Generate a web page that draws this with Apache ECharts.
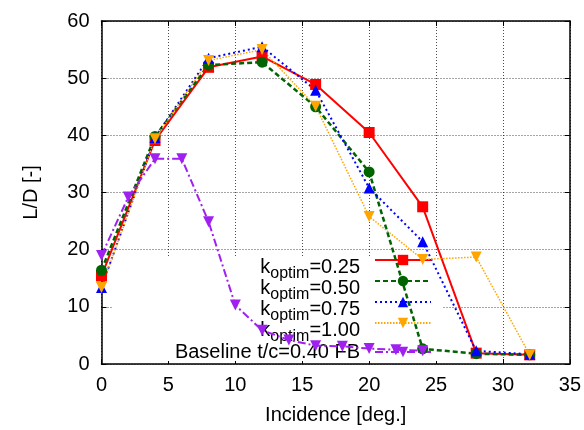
<!DOCTYPE html>
<html>
<head>
<meta charset="utf-8">
<script src="https://cdn.jsdelivr.net/npm/echarts@6/dist/echarts.min.js"></script>
<style>html,body{margin:0;padding:0;background:#fff;}#c{width:584px;height:430px;}</style>
</head>
<body>
<div id="c"></div>
<script>
// ---- data ----
var incidence = [0, 4, 8, 12, 16, 20, 24, 28, 32];
var k025 = [15.4, 39.1, 51.9, 53.8, 48.9, 40.5, 27.5, 1.9, 1.6];
var k050 = [16.4, 39.8, 52.3, 52.8, 45.0, 33.6, 2.65, 1.8, 1.6];
var k075 = [13.4, 39.6, 53.5, 55.5, 47.9, 30.8, 21.4, 2.3, 1.7];
var k100 = [13.4, 39.4, 53.1, 55.0, 45.1, 25.8, 18.3, 18.7, 1.6];
var baseIncidence = [0, 2, 4, 6, 8, 10, 12, 14, 16, 18, 20, 22, 24];
var baseline = [19.0, 29.2, 35.9, 35.9, 24.9, 10.3, 5.9, 4.2, 3.2, 3.1, 2.7, 2.5, 2.3];
var xTicks = [0, 5, 10, 15, 20, 25, 30, 35];
var yTicks = [0, 10, 20, 30, 40, 50, 60];
var kLabels = ['0.25', '0.50', '0.75', '1.00'];

function pairs(xs, ys) { return xs.map(function (x, i) { return [x, ys[i]]; }); }

var FONT = 'Liberation Sans, Arial, sans-serif';
var chart = echarts.init(document.getElementById('c'), null, {renderer: 'canvas'});

var names = ['k0.25', 'k0.50', 'k0.75', 'k1.00', 'Baseline'];
var rowCenters = [267, 288, 309, 330, 352];

var rich = {
  k: {fontSize: 20, fontFamily: FONT, color: '#000', lineHeight: 20, padding: [7, 0, 7, 0], verticalAlign: 'top'},
  s: {fontSize: 16, fontFamily: FONT, color: '#000', lineHeight: 16, padding: [16, 0, 0, 0], verticalAlign: 'top'},
  v: {fontSize: 20, fontFamily: FONT, color: '#000', lineHeight: 20, padding: [7, 10, 7, 0], verticalAlign: 'top'},
  b: {fontSize: 20, fontFamily: FONT, color: '#000', lineHeight: 20, padding: [0, 10, 0, 0]}
};

var legends = names.map(function (n, i) {
  var isBase = i === 4;
  return {
    data: [n],
    orient: 'vertical',
    align: 'right',
    right: 152,
    top: isBase ? rowCenters[i] - 10 : rowCenters[i] - 17,
    padding: 0,
    itemWidth: 56,
    itemHeight: 13,
    selectedMode: false,
    zlevel: 0, z: 20,
    textStyle: {rich: rich},
    formatter: function (name) {
      if (isBase) return '{b|Baseline t/c=0.40 FB}';
      return '{k|k}{s|optim}{v|=' + kLabels[i] + '}';
    }
  };
});

function axisCommon() {
  return {
    type: 'value',
    axisLine: {show: true, onZero: false, lineStyle: {color: '#000', width: 1.5}},
    axisTick: {show: true, inside: true, length: 5, lineStyle: {color: '#000', width: 1}},
  };
}

var xBottom = Object.assign(axisCommon(), {
  position: 'bottom', min: 0, max: 35, interval: 5,
  name: 'Incidence [deg.]', nameLocation: 'middle', nameGap: 41,
  nameTextStyle: {fontSize: 20, fontFamily: FONT, color: '#000'},
  axisLabel: {fontSize: 20, fontFamily: FONT, color: '#000', margin: 11},
  splitLine: {show: true, lineStyle: {color: '#000', width: 1, type: [1, 2], opacity: 0.7}}
});
var xTop = Object.assign(axisCommon(), {
  position: 'top', min: 0, max: 35, interval: 5,
  axisLabel: {show: false}, splitLine: {show: false}
});
var yLeft = Object.assign(axisCommon(), {
  position: 'left', min: 0, max: 60, interval: 10,
  name: 'L/D [-]', nameLocation: 'middle', nameGap: 60, nameRotate: 90,
  nameTextStyle: {fontSize: 20, fontFamily: FONT, color: '#000'},
  axisLabel: {fontSize: 20, fontFamily: FONT, color: '#000', margin: 12},
  splitLine: {show: true, lineStyle: {color: '#000', width: 1, type: [1, 2], opacity: 0.7}}
});
var yRight = Object.assign(axisCommon(), {
  position: 'right', min: 0, max: 60, interval: 10,
  axisLabel: {show: false}, splitLine: {show: false}
});

function mkSeries(name, data, color, symbol, rotate, lineType, width) {
  return {
    name: name, type: 'line', data: data,
    xAxisIndex: 0, yAxisIndex: 0,
    symbol: symbol, symbolSize: 11, symbolRotate: rotate,
    lineStyle: {color: color, width: width, type: lineType},
    itemStyle: {color: color},
    animation: false, zlevel: 1, z: 3
  };
}

var option = {
  backgroundColor: '#fff',
  animation: false,
  grid: {left: 101.5, right: 14, top: 21, bottom: 63, containLabel: false},
  xAxis: [xBottom, xTop],
  yAxis: [yLeft, yRight],
  legend: legends,
  graphic: {elements: [{type: 'rect', zlevel: 0, z: 10, shape: {x: 113, y: 256, width: 329, height: 105}, style: {fill: '#fff'}, silent: true}]},
  series: [
    mkSeries('k0.25', pairs(incidence, k025), '#ff0000', 'rect', 0, 'solid', 2),
    mkSeries('k0.50', pairs(incidence, k050), '#006400', 'circle', 0, [5, 3], 2.5),
    mkSeries('k0.75', pairs(incidence, k075), '#0000ff', 'triangle', 0, [2, 3], 2),
    mkSeries('k1.00', pairs(incidence, k100), '#ffa500', 'triangle', 180, [1.5, 1.5], 1.5),
    mkSeries('Baseline', pairs(baseIncidence, baseline), '#a020f0', 'triangle', 180, [8, 3, 2, 3], 2)
  ]
};
chart.setOption(option);
</script>
</body>
</html>
